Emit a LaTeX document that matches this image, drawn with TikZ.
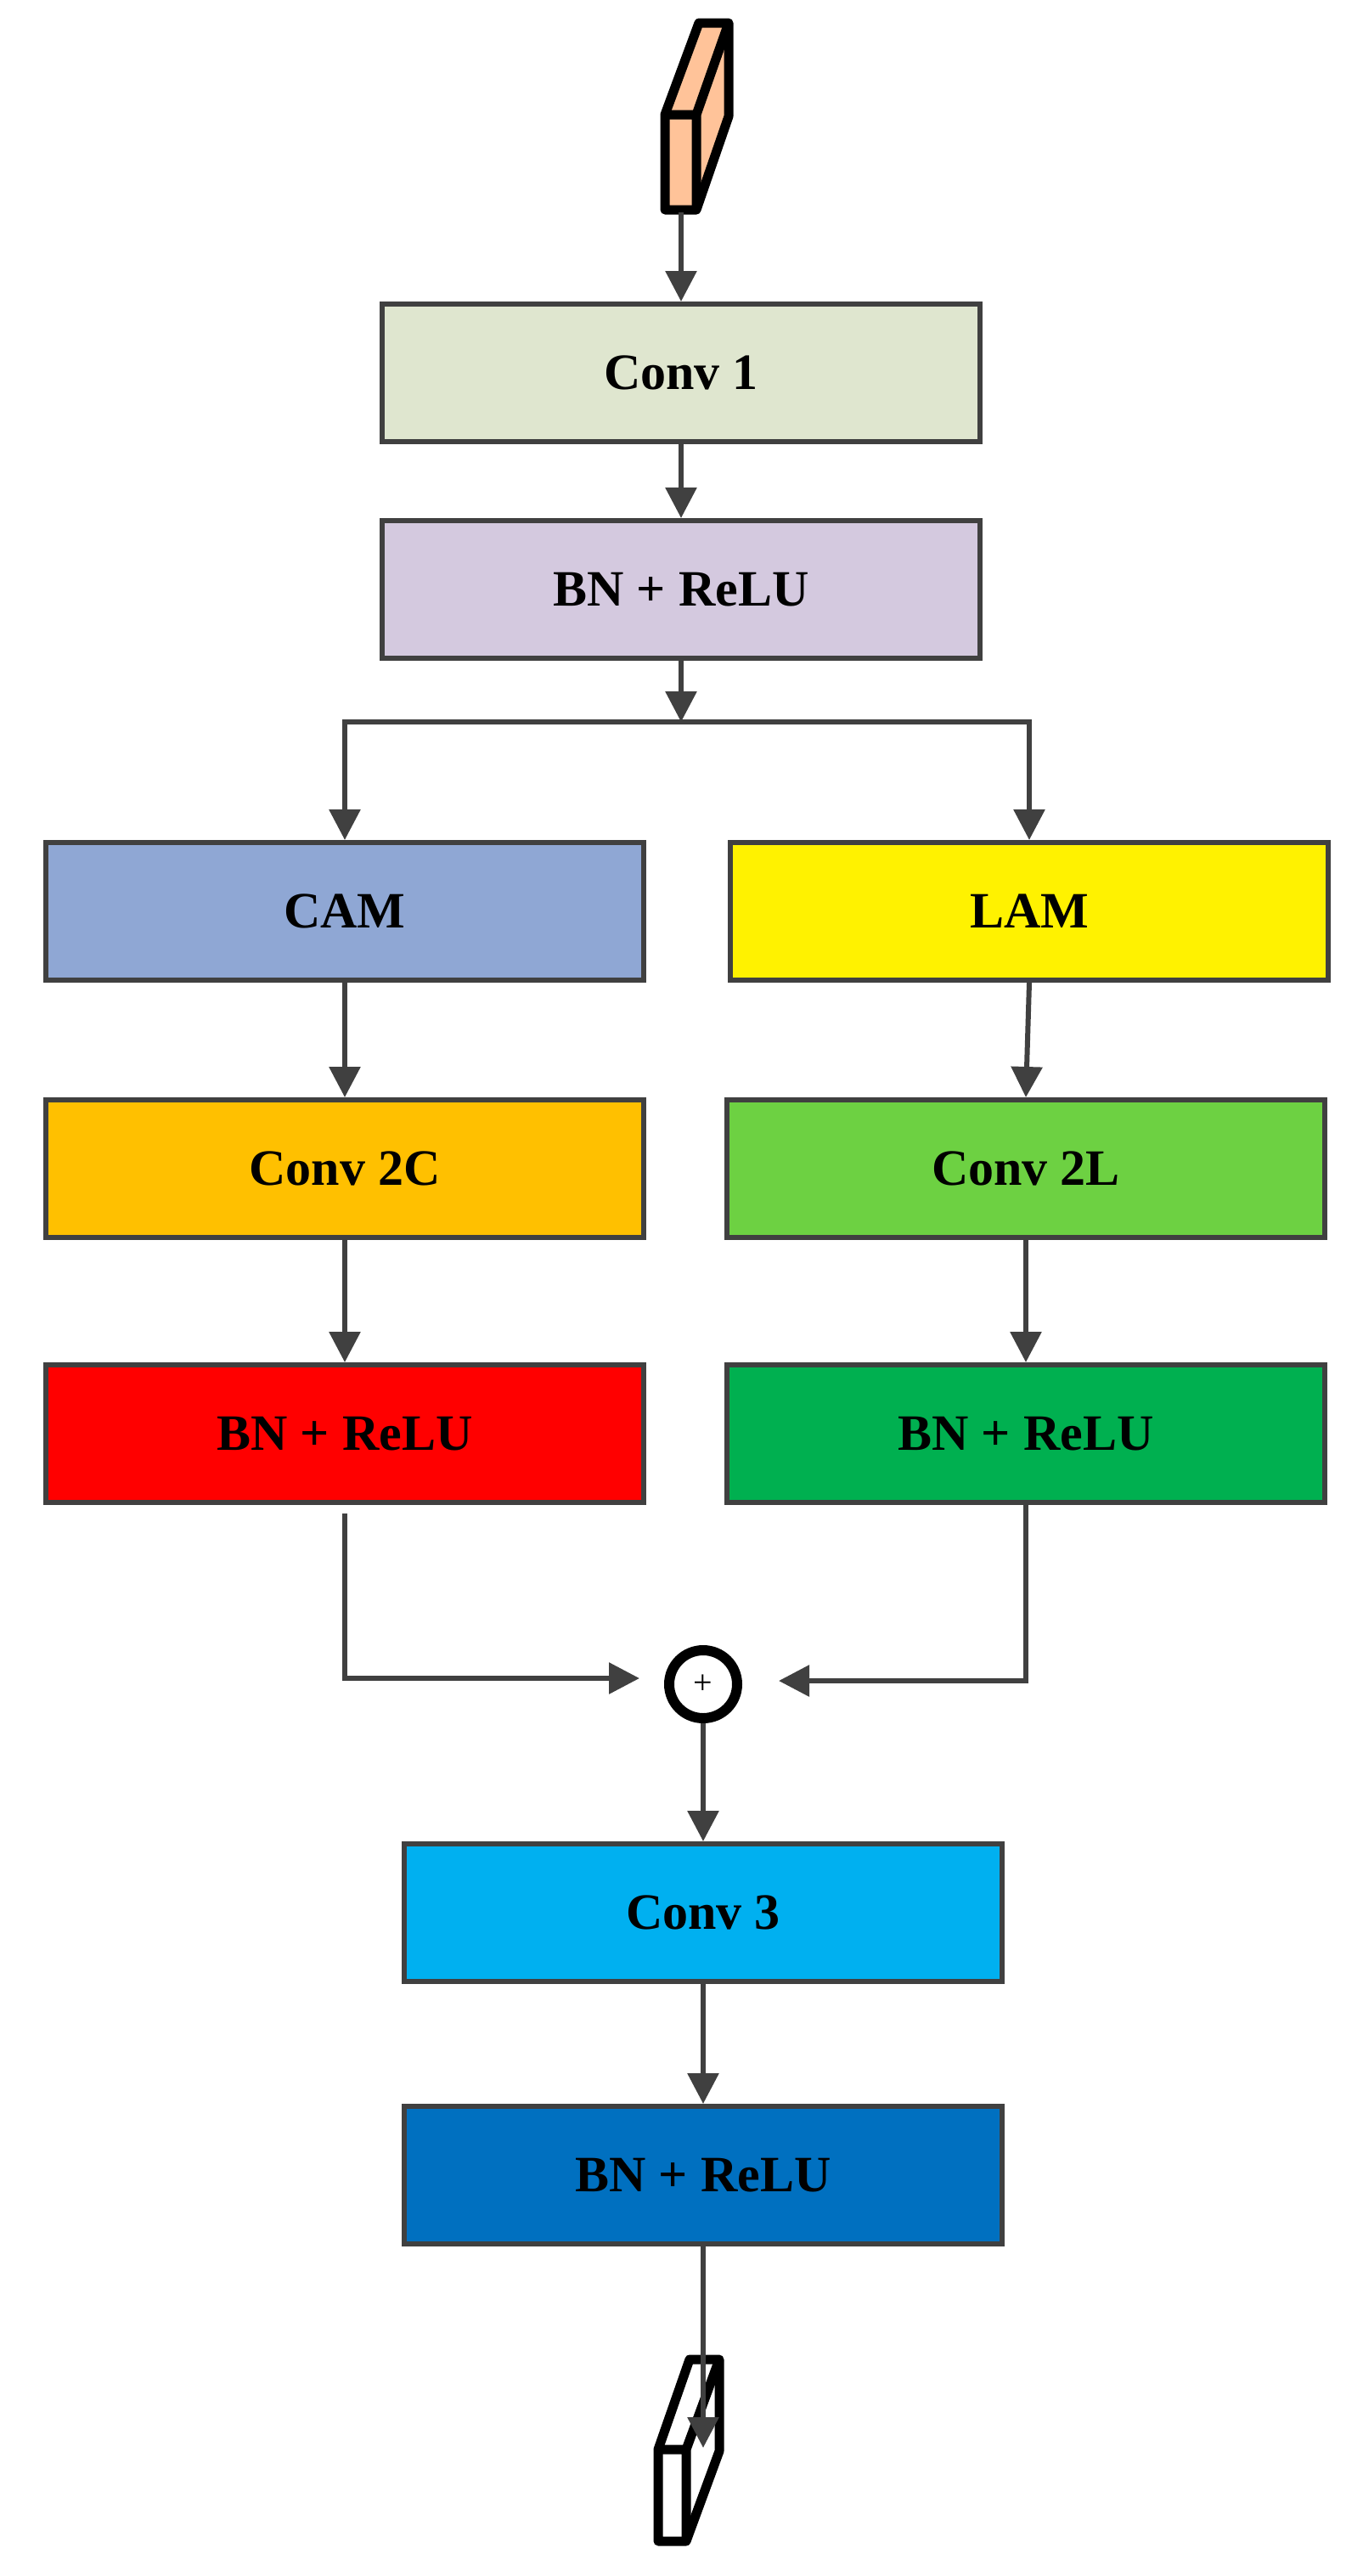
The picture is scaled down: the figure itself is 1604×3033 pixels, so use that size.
\documentclass[tikz,border=0pt]{standalone}
\usepackage{fontspec}
\setmainfont{Liberation Serif}
\usetikzlibrary{arrows.meta}
\definecolor{ln}{HTML}{404040}
\begin{document}
\begin{tikzpicture}[x=1pt,y=-1pt,
 box/.style={draw=ln,line width=6pt,minimum width=704pt,minimum height=162pt,inner sep=0pt,font=\fontsize{60}{70}\selectfont\bfseries},
 arr/.style={draw=ln,line width=6pt,-{Triangle[width=36pt,length=36pt]}},
 ln/.style={draw=ln,line width=6pt},
 blk/.style={draw=black,line width=11pt,line join=round}]
\useasboundingbox (0,0) rectangle (1604,3033);
\node[box,fill={rgb,255:red,223;green,230;blue,207}] (c1) at (802,439) {Conv 1};
\node[box,fill={rgb,255:red,212;green,201;blue,223}] (b1) at (802,694) {BN + ReLU};
\node[box,fill={rgb,255:red,143;green,167;blue,212}] (cam) at (406,1073) {CAM};
\node[box,fill=yellow] (lam) at (1212,1073) {LAM};
\node[box,fill={rgb,255:red,255;green,192;blue,0}] (c2c) at (406,1376) {Conv 2C};
\node[box,fill={rgb,255:red,109;green,209;blue,66}] (c2l) at (1208,1376) {Conv 2L};
\node[box,fill=red] (b2c) at (406,1688) {BN + ReLU};
\node[box,fill={rgb,255:red,0;green,176;blue,80}] (b2l) at (1208,1688) {BN + ReLU};
\node[box,fill={rgb,255:red,0;green,176;blue,240}] (c3) at (828,2252) {Conv 3};
\node[box,fill={rgb,255:red,0;green,112;blue,192}] (b3) at (828,2561) {BN + ReLU};
\node[circle,draw=black,line width=12pt,minimum size=80pt,inner sep=0pt,font=\fontsize{40}{40}\selectfont] (plus) at (828,1983) {+};
% input block
\filldraw[blk,fill={rgb,255:red,255;green,195;blue,153}] (783,135) -- (823,27) -- (858,27) -- (858,137) -- (820,247) -- (783,247) -- cycle;
\draw[blk] (783,135) -- (820,135) -- (858,27) (820,135) -- (820,247);
\coordinate (in) at (802,250);
% output block
\filldraw[blk,fill=white] (775,2884) -- (812,2778) -- (847,2778) -- (847,2886) -- (808,2992) -- (775,2992) -- cycle;
\draw[blk] (775,2884) -- (808,2884) -- (847,2778) (808,2884) -- (808,2992);
\coordinate (out) at (828,2882);
% connectors
\draw[arr] (in) -- (c1.north);
\draw[arr] (c1.south) -- (b1.north);
\draw[arr] (b1.south) -- (802,850);
\draw[arr] (802,850) -| (cam.north);
\draw[arr] (802,850) -| (lam.north);
\draw[arr] (cam.south) -- (c2c.north);
\draw[arr] (lam.south) -- (c2l.north);
\draw[arr] (c2c.south) -- (b2c.north);
\draw[arr] (c2l.south) -- (b2l.north);
\draw[arr] (406,1782) |- (753,1976);
\draw[arr] (b2l.south) |- (917,1979);
\draw[arr] (plus.south) -- (c3.north);
\draw[arr] (c3.south) -- (b3.north);
\draw[arr] (b3.south) -- (out);
\end{tikzpicture}
\end{document}
